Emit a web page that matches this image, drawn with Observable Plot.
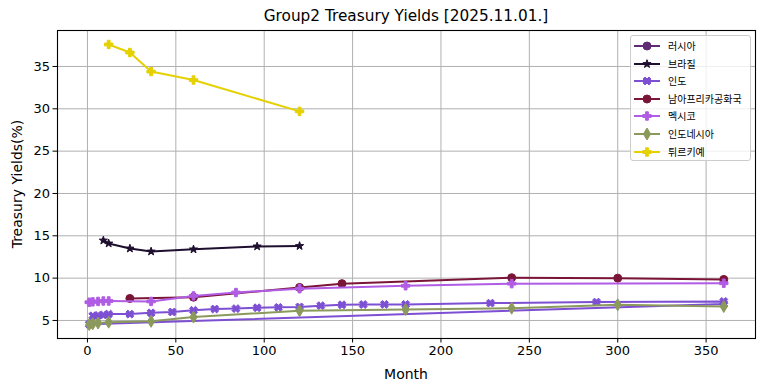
<!DOCTYPE html>
<html><head><meta charset="utf-8">
<script src="https://cdn.jsdelivr.net/npm/d3@7"></script>
<script src="https://cdn.jsdelivr.net/npm/@observablehq/plot@0.6"></script>
<style>
body{margin:0;background:#fff;}
#wrap{position:relative;width:764px;height:391px;font-family:"DejaVu Sans",sans-serif;color:#000;}
#title{position:absolute;left:0;width:812px;top:7px;text-align:center;font-size:15.3px;line-height:18px;}
#xlabel{position:absolute;left:0;width:812px;top:366px;text-align:center;font-size:14px;line-height:16px;}
#ylabel{position:absolute;left:17px;top:184px;transform:translate(-50%,-50%) rotate(-90deg);font-size:14px;white-space:nowrap;line-height:16px;}
#legend{position:absolute;left:630px;top:35px;width:121px;height:126px;border:1px solid #cccccc;border-radius:3px;background:rgba(255,255,255,0.8);box-sizing:border-box;}
.row{position:absolute;left:0;height:16px;display:flex;align-items:center;}
.row svg{margin-left:2px;}
.row span{margin-left:7px;font-family:"Noto Sans CJK KR",sans-serif;font-size:10px;line-height:16px;}
</style>
</head><body>
<div id="wrap">
  <div id="chart"></div>
  <div id="title">Group2 Treasury Yields [2025.11.01.]</div>
  <div id="xlabel">Month</div>
  <div id="ylabel">Treasury Yields(%)</div>
  <div id="legend"></div>
</div>
<script>
// ---- data ----
const countries = ["러시아","브라질","인도","남아프리카공화국","멕시코","인도네시아","튀르키예"];
const colors = ["#5e2b74","#1f0f2f","#7d4fd3","#7a1537","#b05ce4","#8b9a5c","#e5d000"];

// 러시아: no points visible in the chart (legend entry only)
const russiaMonths = [];
const russiaYields = [];
const brazilMonths = [9, 12, 24, 36, 60, 96, 120];
const brazilYields = [14.45, 14.1, 13.5, 13.15, 13.4, 13.75, 13.8];
// 인도: listed in source order; the last entry (short end) draws the long return segment
const indiaMonths = [3, 6, 9, 12, 24, 36, 48, 60, 72, 84, 96, 108, 120, 132, 144, 156, 168, 180, 228, 288, 360, 360, 1];
const indiaYields = [5.55, 5.6, 5.65, 5.75, 5.75, 5.9, 6.0, 6.2, 6.35, 6.4, 6.5, 6.55, 6.6, 6.75, 6.85, 6.88, 6.9, 6.9, 7.05, 7.17, 7.25, 6.95, 4.55];
const saMonths = [24, 60, 120, 144, 240, 300, 360];
const saYields = [7.6, 7.75, 8.9, 9.35, 10.05, 10.0, 9.85];
const mexicoMonths = [1, 3, 6, 9, 12, 36, 60, 84, 120, 180, 240, 360];
const mexicoYields = [7.15, 7.2, 7.25, 7.3, 7.3, 7.25, 7.9, 8.3, 8.75, 9.1, 9.35, 9.4];
const indonesiaMonths = [1, 3, 6, 12, 36, 60, 120, 180, 240, 300, 360];
const indonesiaYields = [4.52, 4.6, 4.7, 4.8, 4.9, 5.4, 6.15, 6.3, 6.45, 6.85, 6.65];
const turkeyMonths = [12, 24, 36, 60, 120];
const turkeyYields = [37.6, 36.65, 34.4, 33.4, 29.7];

const xTicks = [0, 50, 100, 150, 200, 250, 300, 350];
const yTicks = [5, 10, 15, 20, 25, 30, 35];

const seriesMonths = [russiaMonths, brazilMonths, indiaMonths, saMonths, mexicoMonths, indonesiaMonths, turkeyMonths];
const seriesYields = [russiaYields, brazilYields, indiaYields, saYields, mexicoYields, indonesiaYields, turkeyYields];

// ---- marker shapes ----
function poly(pts){return {draw(ctx){ctx.moveTo(pts[0][0],pts[0][1]);for(let i=1;i<pts.length;i++)ctx.lineTo(pts[i][0],pts[i][1]);ctx.closePath();}};}
const A=4.2, W=1.4;
const plusPts=[[-W,-A],[W,-A],[W,-W],[A,-W],[A,W],[W,W],[W,A],[-W,A],[-W,W],[-A,W],[-A,-W],[-W,-W]];
const rot=plusPts.map(([x,y])=>[(x-y)*Math.SQRT1_2,(x+y)*Math.SQRT1_2]);
const starPts=d3.range(10).map(i=>{const r=i%2?1.7:4.3;const a=-Math.PI/2+i*Math.PI/5;return [r*Math.cos(a),r*Math.sin(a)];});
const circle={draw(ctx){ctx.moveTo(4,0);ctx.arc(0,0,4,0,2*Math.PI);}};
const symP=poly(plusPts), symX=poly(rot), symStar=poly(starPts);
const symD=poly([[0,-6],[3.6,0],[0,6],[-3.6,0]]);
const symbols=[circle, symStar, symX, circle, symP, symD, symP];

// ---- table ----
const data = countries.flatMap((c,i)=>seriesMonths[i].map((m,j)=>({country:c, month:m, yield:seriesYields[i][j]})));

const marks = [
  Plot.gridX(xTicks,{stroke:"#b0b0b0",strokeOpacity:1,strokeWidth:1}),
  Plot.gridY(yTicks,{stroke:"#b0b0b0",strokeOpacity:1,strokeWidth:1}),
  ...countries.flatMap((c,i)=>{
    const d=data.filter(r=>r.country===c);
    return [
      Plot.line(d,{x:"month",y:"yield",stroke:colors[i],strokeWidth:2}),
      Plot.dot(d,{x:"month",y:"yield",symbol:symbols[i],fill:colors[i],stroke:colors[i],strokeWidth:1,r:4})
    ];
  }),
  Plot.frame({stroke:"black",strokeWidth:1.1}),
  Plot.axisX(xTicks,{tickSize:4.5,tickPadding:3,label:null,fontSize:13,stroke:"black"}),
  Plot.axisY(yTicks,{tickSize:4.5,tickPadding:3,label:null,fontSize:13,stroke:"black"})
];

const chart = Plot.plot({
  width:764, height:391,
  marginLeft:57, marginRight:9, marginTop:30, marginBottom:53,
  style:{fontFamily:"DejaVu Sans",fontSize:"13px",background:"white",color:"black"},
  x:{domain:[-16.95,377.95]},
  y:{domain:[2.87,39.25]},
  marks
});
document.getElementById("chart").appendChild(chart);

// ---- legend ----
const leg=d3.select("#legend");
countries.forEach((c,i)=>{
  const row=leg.append("div").attr("class","row").style("top",(2+i*17.6)+"px");
  const s=row.append("svg").attr("width",28).attr("height",12);
  s.append("line").attr("x1",1).attr("x2",27).attr("y1",6).attr("y2",6).attr("stroke",colors[i]).attr("stroke-width",2);
  const p=d3.path(); symbols[i].draw(p);
  s.append("path").attr("d",p.toString()).attr("transform","translate(14,6)").attr("fill",colors[i]).attr("stroke",colors[i]).attr("stroke-width",1);
  row.append("span").text(c);
});
</script>
</body></html>
